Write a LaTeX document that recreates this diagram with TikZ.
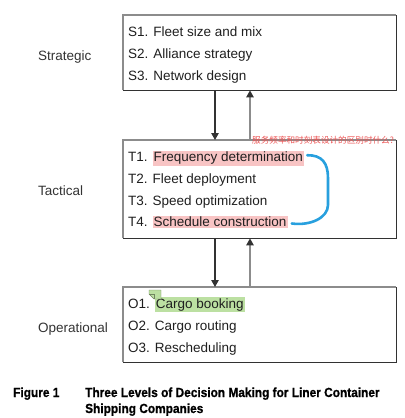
\documentclass[tikz,border=0pt]{standalone}
\usepackage{fontspec}
\setmainfont{Liberation Sans}
\newfontfamily\capfont[FakeStretch=0.9,FakeBold=0.8]{Liberation Sans}
\newfontfamily\cjkfont{Noto Sans CJK SC}
\usetikzlibrary{arrows.meta, positioning, calc}
\definecolor{mypink}{RGB}{248,196,196}
\definecolor{mygreen}{RGB}{188,224,162}
\definecolor{myblue}{RGB}{40,160,222}
\definecolor{myred}{RGB}{236,84,84}
\definecolor{boxlite}{RGB}{140,140,140}
\definecolor{boxdark}{RGB}{50,50,50}
\setlength{\fboxsep}{1bp}

\begin{document}
\begin{tikzpicture}[x=1bp,y=-1bp,
    every node/.style={inner sep=0pt,font=\fontsize{13.5bp}{16bp}\selectfont,text=black!88},
    box/.style={minimum width=273bp,anchor=north west},
    item/.style={anchor=base west},
    level/.style={anchor=base west,text=black!80},
    caption/.style={anchor=base west,align=left,text=black,font=\capfont\bfseries\fontsize{13.2bp}{16bp}\selectfont},
    downarr/.style={-{Triangle[width=7.5bp,length=7bp]},line width=1.2bp,draw=boxdark},
    uparr/.style={-{Triangle[width=7.5bp,length=7bp,color=boxdark]},line width=1.2bp,draw=boxlite}]
    \useasboundingbox (0,0) rectangle (405,418);

    \node[box,minimum height=75bp] (strat) at (123,15) {};
    \node[box,minimum height=98bp] (tact) at (123,140) {};
    \node[box,minimum height=75bp] (oper) at (123,287) {};
    \foreach \b in {strat,tact,oper} {
        \draw[boxlite,line width=1.3bp] (\b.south west) -- (\b.north west) -- (\b.north east);
        \draw[boxdark,line width=1.3bp] (\b.north east) -- (\b.south east) -- (\b.south west);
    }

    \node[level] (lstrat) at (38,60) {Strategic};
    \node[level] (ltact) at (38,195) {Tactical};
    \node[level] (loper) at (38,332) {Operational};

    \foreach \t [count=\i] in {S1. Fleet size and mix, S2. Alliance strategy, S3. Network design} {
        \node[item] (s\i) at (128,14+22*\i) {\t};
    }
    \node[item] (t1) at (128,161.7) {T1. \colorbox{mypink}{Frequency determination}};
    \node[item] (t2) at (128,183.4) {T2. Fleet deployment};
    \node[item] (t3) at (128,205.1) {T3. Speed optimization};
    \node[item] (t4) at (128,226.8) {T4. \colorbox{mypink}{Schedule construction}};
    \node[item] (o1) at (128,308) {O1. \colorbox{mygreen}{Cargo booking}};
    \node[item] (o2) at (128,330) {O2. Cargo routing};
    \node[item] (o3) at (128,352) {O3. Rescheduling};

    % arrows between the levels
    \draw[downarr] ([xshift=92bp]strat.south west) -- ([xshift=92bp]tact.north west);
    \draw[uparr] ([xshift=127bp]tact.north west) -- ([xshift=127bp]strat.south west);
    \draw[downarr] ([xshift=92bp]tact.south west) -- ([xshift=92bp]oper.north west);
    \draw[uparr] ([xshift=127bp]oper.north west) -- ([xshift=127bp]tact.south west);

    % annotations
    \node[anchor=west,font=\cjkfont\fontsize{8.6bp}{10bp}\selectfont,text=myred] (ask) at (252,140) {服务频率和时刻表设计的区别时什么?};
    \draw[myblue,line width=2.6bp,line cap=round] ([shift={(3,-3)}]t1.east) .. controls (322,155) and (328,163) .. (328,178) -- (328,205) .. controls (328,218) and (310,226) .. ([shift={(4,1.5)}]t4.east);
    \filldraw[fill=mygreen,draw=mygreen!60!black,line width=0.4bp] (149,290) -- (161,290) -- (161,299) -- (154,299) -- (149,294) -- cycle;
    \draw[mygreen!60!black,line width=0.4bp] (149,294) -- (154,294) -- (154,299);

    \node[caption] (fig) at (13,397) {Figure 1};
    \node[caption] (title) at (85,413) {Three Levels of Decision Making for Liner Container\\Shipping Companies};
\end{tikzpicture}
\end{document}
